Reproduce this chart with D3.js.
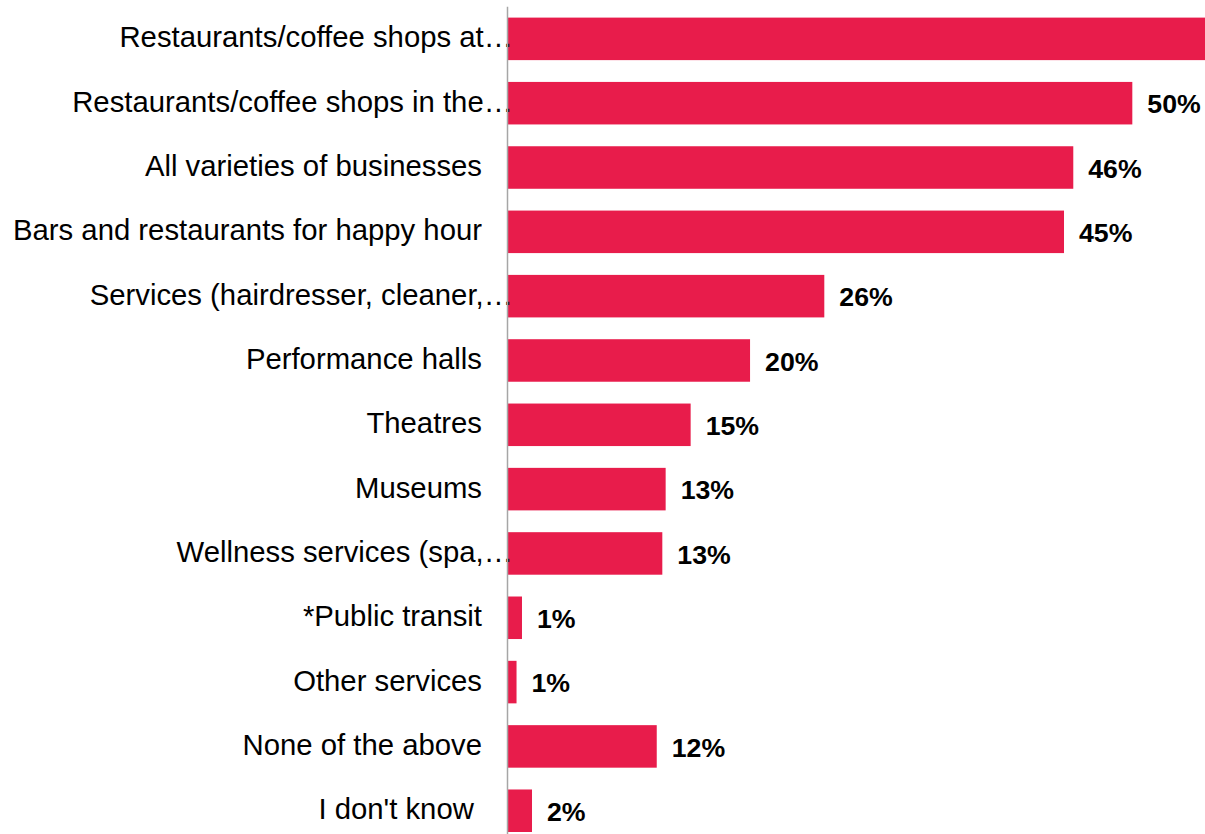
<!DOCTYPE html>
<html>
<head>
<meta charset="utf-8">
<script src="https://cdn.jsdelivr.net/npm/d3@7/dist/d3.min.js"></script>
<style>
  html, body { margin: 0; padding: 0; background: #ffffff; }
  svg { display: block; }
  text { font-family: "Liberation Sans", Arial, sans-serif; }
</style>
</head>
<body>
<svg id="chart" width="1205" height="834"></svg>
<script>
// Survey answers, top to bottom
const categories = [
  "Restaurants/coffee shops at…",
  "Restaurants/coffee shops in the…",
  "All varieties of businesses",
  "Bars and restaurants for happy hour",
  "Services (hairdresser, cleaner,…",
  "Performance halls",
  "Theatres",
  "Museums",
  "Wellness services (spa,…",
  "*Public transit",
  "Other services",
  "None of the above",
  "I don't know "
];

// Share of respondents, in percent
const shares = [57.5, 50.49, 45.72, 44.97, 25.6, 19.6, 14.8, 12.78, 12.51, 1.17, 0.73, 12.06, 1.98];

const svg = d3.select("#chart");
const W = 1205, H = 834;
const x0 = 507.5;

const x = d3.scaleLinear().domain([0, 50]).range([x0, x0 + 618.75]);
const y = d3.scaleBand()
  .domain(categories)
  .range([6.7, 842.9])
  .paddingInner(0.339)
  .paddingOuter(0.1695);

const rows = categories.map((c, i) => ({ c, v: shares[i] }));

// Bars (the longest one runs past the right edge)
svg.append("g")
  .selectAll("rect")
  .data(rows)
  .join("rect")
  .attr("x", x(0))
  .attr("y", d => y(d.c))
  .attr("width", d => x(d.v) - x(0))
  .attr("height", y.bandwidth())
  .attr("fill", "#E81C4B");

// Value labels, only where they land inside the drawing area
svg.append("g")
  .selectAll("text")
  .data(rows.filter(d => x(d.v) + 15 < W))
  .join("text")
  .attr("x", d => x(d.v) + 15)
  .attr("y", d => y(d.c) + y.bandwidth() / 2)
  .attr("dy", "0.385em")
  .attr("font-size", "26.7px")
  .attr("font-weight", "bold")
  .attr("fill", "#000")
  .text(d => Math.round(d.v) + "%");

// Category labels
svg.append("g")
  .selectAll("text")
  .data(rows)
  .join("text")
  .attr("x", d => d.c.endsWith("…") ? x0 + 5.5 : x0 - 25.5)
  .attr("y", d => y(d.c) + y.bandwidth() / 2)
  .attr("dy", "0.29em")
  .attr("text-anchor", "end")
  .attr("font-size", "29.3px")
  .attr("fill", "#000")
  .style("white-space", "pre")
  .text(d => d.c);

// Category axis line
svg.append("line")
  .attr("x1", x0).attr("x2", x0)
  .attr("y1", y.range()[0]).attr("y2", y.range()[1])
  .attr("stroke", "#A6A6A6")
  .attr("stroke-width", 1.5);
</script>
</body>
</html>
